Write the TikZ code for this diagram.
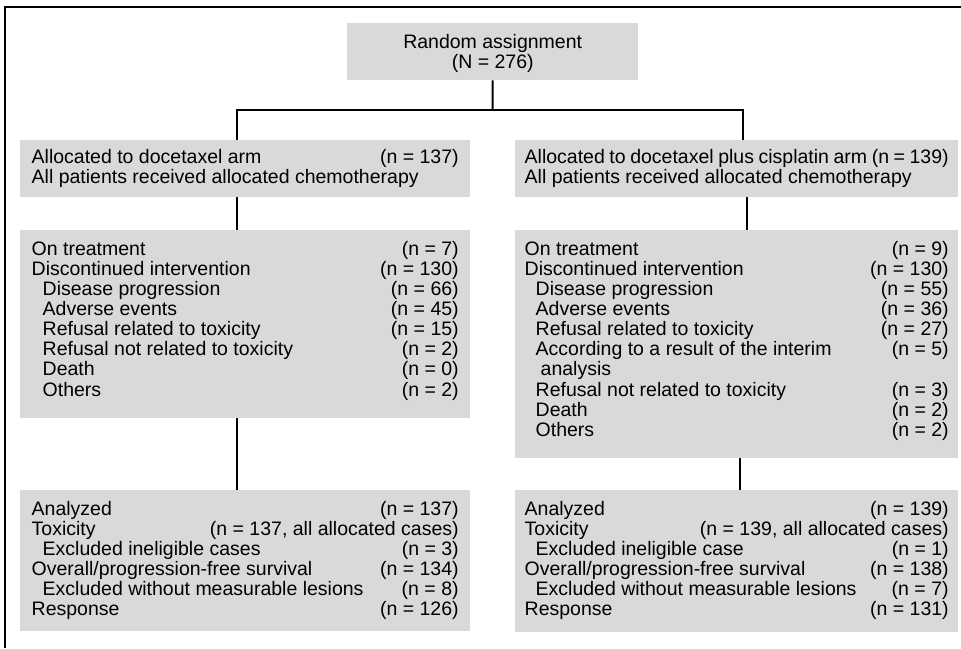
\documentclass[tikz,border=0pt]{standalone}
\usepackage{fontspec}
\setmainfont{Liberation Sans}
\newcommand\ind{\hspace*{11pt}}
\newcommand\indd{\hspace*{16pt}}
\newlength\rowwd
\newcommand\lr[2]{\hbox to \rowwd{#1\hfil #2}}
\begin{document}
\begin{tikzpicture}[x=1pt,y=-1pt,
  box/.style={fill=black!15, draw=none, inner ysep=0pt, anchor=north west,
    font=\fontsize{19.5}{20}\selectfont},
  lbox/.style={box, minimum width=450pt, inner xsep=11.5pt},
  rbox/.style={box, minimum width=443pt, inner xsep=9.5pt},
  conn/.style={line width=2pt},
  frame/.style={line width=1.4pt}]
\useasboundingbox (0,0) rectangle (961,648);

% frame (top and left edges)
\coordinate (fbl) at (5,648);
\coordinate (ftl) at (5,7);
\coordinate (ftr) at (961,7);
\draw[frame] (fbl) -- (ftl) -- (ftr);

% top box
\node[box, minimum width=291pt, text height=25pt, text depth=32pt] (rand) at (347,23)
  {\begin{tabular}[t]{@{}c@{}}Random assignment\\(N = 276)\end{tabular}};

% allocation boxes
\node[lbox, text height=23pt, text depth=34pt] (lalloc) at (20,140)
  {\setlength\rowwd{427pt}\begin{tabular}[t]{@{}l@{}}
   \lr{Allocated to docetaxel arm}{(n = 137)}\\
   \lr{All patients received allocated chemotherapy}{}
   \end{tabular}};
\node[rbox, text height=23pt, text depth=34pt] (ralloc) at (515,140)
  {\setlength\rowwd{424pt}\begin{tabular}[t]{@{}l@{}}
   \hbox to \rowwd{Allocated to docetaxel plus cisplatin arm (n = 139)}\\
   \lr{All patients received allocated chemotherapy}{}
   \end{tabular}};

% treatment boxes
\node[lbox, text height=25pt, text depth=163pt] (ltreat) at (20,230)
  {\setlength\rowwd{427pt}\begin{tabular}[t]{@{}l@{}}
   \lr{On treatment}{(n = 7)}\\
   \lr{Discontinued intervention}{(n = 130)}\\
   \lr{\ind Disease progression}{(n = 66)}\\
   \lr{\ind Adverse events}{(n = 45)}\\
   \lr{\ind Refusal related to toxicity}{(n = 15)}\\
   \lr{\ind Refusal not related to toxicity}{(n = 2)}\\
   \lr{\ind Death}{(n = 0)}\\
   \lr{\ind Others}{(n = 2)}
   \end{tabular}};
\node[rbox, text height=25pt, text depth=203pt] (rtreat) at (515,230)
  {\setlength\rowwd{424pt}\begin{tabular}[t]{@{}l@{}}
   \lr{On treatment}{(n = 9)}\\
   \lr{Discontinued intervention}{(n = 130)}\\
   \lr{\ind Disease progression}{(n = 55)}\\
   \lr{\ind Adverse events}{(n = 36)}\\
   \lr{\ind Refusal related to toxicity}{(n = 27)}\\
   \lr{\ind According to a result of the interim}{(n = 5)}\\
   \lr{\indd analysis}{}\\
   \lr{\ind Refusal not related to toxicity}{(n = 3)}\\
   \lr{\ind Death}{(n = 2)}\\
   \lr{\ind Others}{(n = 2)}
   \end{tabular}};

% result boxes
\node[lbox, text height=25pt, text depth=116pt] (lres) at (20,490)
  {\setlength\rowwd{427pt}\begin{tabular}[t]{@{}l@{}}
   \lr{Analyzed}{(n = 137)}\\
   \lr{Toxicity}{(n = 137, all allocated cases)}\\
   \lr{\ind Excluded ineligible cases}{(n = 3)}\\
   \lr{Overall/progression-free survival}{(n = 134)}\\
   \lr{\ind Excluded without measurable lesions}{(n = 8)}\\
   \lr{Response}{(n = 126)}
   \end{tabular}};
\node[rbox, text height=25pt, text depth=117pt] (rres) at (515,490)
  {\setlength\rowwd{424pt}\begin{tabular}[t]{@{}l@{}}
   \lr{Analyzed}{(n = 139)}\\
   \lr{Toxicity}{(n = 139, all allocated cases)}\\
   \lr{\ind Excluded ineligible case}{(n = 1)}\\
   \lr{Overall/progression-free survival}{(n = 138)}\\
   \lr{\ind Excluded without measurable lesions}{(n = 7)}\\
   \lr{Response}{(n = 131)}
   \end{tabular}};

% connectors
\coordinate (bar) at (492.5,110);
\coordinate (lx) at (237,0);
\coordinate (rx) at (743,0);
\coordinate (rxb) at (747,0);
\coordinate (rxc) at (740,0);
\draw[conn] (rand.south) -- (bar);
\draw[conn] (lalloc.north -| lx) -- (lx |- bar) -- (rx |- bar) -- (ralloc.north -| rx);
\draw[conn] (lalloc.south -| lx) -- (ltreat.north -| lx);
\draw[conn] (ralloc.south -| rxb) -- (rtreat.north -| rxb);
\draw[conn] (ltreat.south -| lx) -- (lres.north -| lx);
\draw[conn] (rtreat.south -| rxc) -- (rres.north -| rxc);
\end{tikzpicture}
\end{document}
